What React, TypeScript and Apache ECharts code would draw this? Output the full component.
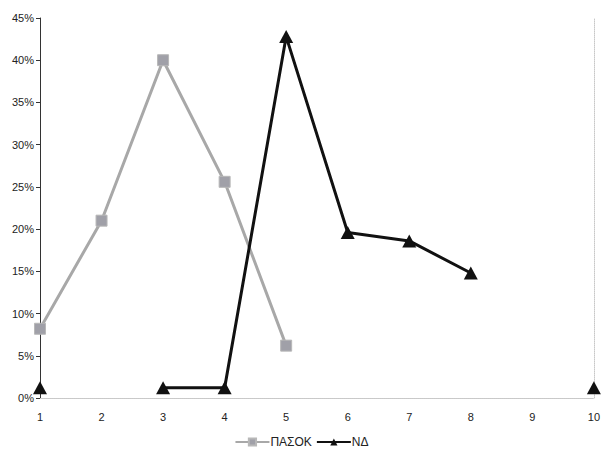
import React, { useEffect, useRef } from "react";
import * as echarts from "echarts";

const categories = ["1", "2", "3", "4", "5", "6", "7", "8", "9", "10"];
const pasok: (number | null)[] = [8.2, 21, 40, 25.6, 6.2, null, null, null, null, null];
const nd: (number | null)[] = [1.2, null, 1.2, 1.2, 42.8, 19.6, 18.6, 14.8, null, 1.2];
const yTicks = { min: 0, max: 45, interval: 5 };

export default function App() {
  const ref = useRef<HTMLDivElement>(null);
  useEffect(() => {
    if (!ref.current) return;
    const chart = echarts.init(ref.current, undefined, { renderer: "svg" });
    const font = "Liberation Sans, Arial, sans-serif";
    chart.setOption({
      animation: false,
      backgroundColor: "#fff",
      grid: { left: 40, right: 8, top: 18, bottom: 66 },
      legend: {
        bottom: 11,
        left: "center",
        itemWidth: 34,
        itemHeight: 9,
        itemGap: 4,
        textStyle: { fontFamily: font, fontSize: 12, color: "#222", padding: [0, 0, 0, -4] },
        data: ["ΠΑΣΟΚ", "ΝΔ"],
      },
      xAxis: [
        {
          type: "category",
          data: categories,
          boundaryGap: false,
          axisLine: { lineStyle: { color: "#b0b0b0", type: "dotted", width: 1 } },
          axisTick: { show: false },
          axisLabel: { color: "#222", fontFamily: font, fontSize: 11, margin: 13 },
        },
        {
          type: "category",
          data: categories,
          position: "top",
          boundaryGap: false,
          axisLine: { lineStyle: { color: "#c8c8c8", type: "dotted", width: 1 } },
          axisTick: { show: false },
          axisLabel: { show: false },
        },
      ],
      yAxis: [
        {
          type: "value",
          min: yTicks.min,
          max: yTicks.max,
          interval: yTicks.interval,
          axisLine: { show: true, lineStyle: { color: "#333", width: 1 } },
          axisTick: { show: true, length: 4, inside: false, lineStyle: { color: "#333" } },
          splitLine: { show: false },
          axisLabel: { color: "#222", fontFamily: font, fontSize: 11, margin: 6, formatter: "{value}%" },
        },
        {
          type: "value",
          position: "right",
          min: yTicks.min,
          max: yTicks.max,
          interval: yTicks.interval,
          axisLine: { show: true, lineStyle: { color: "#c8c8c8", type: "dotted", width: 1 } },
          axisTick: { show: false },
          splitLine: { show: false },
          axisLabel: { show: false },
        },
      ],
      series: [
        {
          name: "ΠΑΣΟΚ",
          type: "line",
          data: pasok,
          symbol: "rect",
          symbolSize: 11,
          connectNulls: false,
          lineStyle: { color: "#a8a8a8", width: 3 },
          itemStyle: { color: "#a0a0a8", borderColor: "#b8b8b8", borderWidth: 1 },
        },
        {
          name: "ΝΔ",
          type: "line",
          data: nd,
          symbol: "triangle",
          symbolSize: [14, 13],
          connectNulls: false,
          lineStyle: { color: "#111", width: 3 },
          itemStyle: { color: "#111" },
        },
      ],
    });
    return () => chart.dispose();
  }, []);
  return <div ref={ref} style={{ width: 603, height: 464, position: "absolute", left: 0, top: 0 }} />;
}
